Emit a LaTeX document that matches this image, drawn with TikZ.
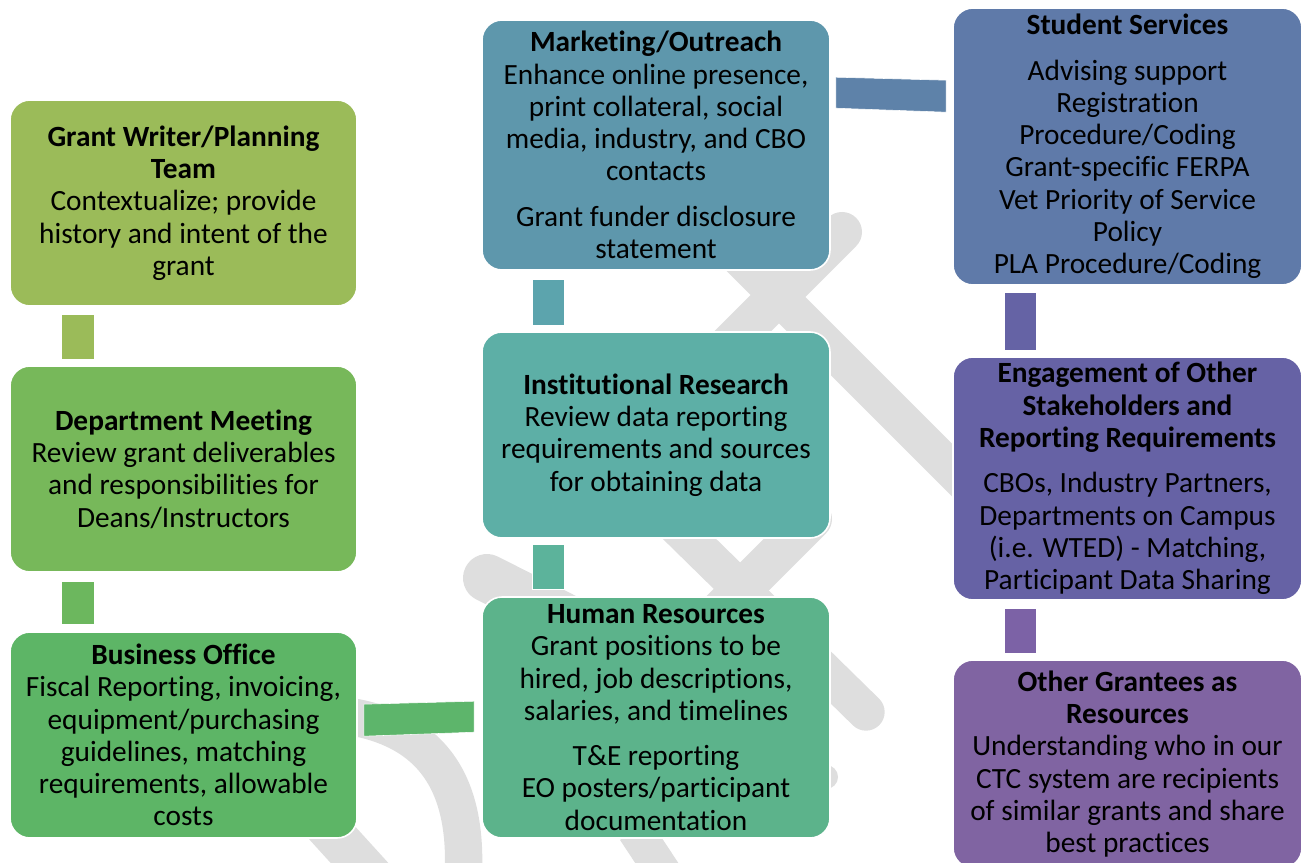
\documentclass[tikz,border=0pt]{standalone}
\usepackage{fontspec}
\setmainfont{Carlito}[Ligatures={NoCommon}]
\usetikzlibrary{calc}

\definecolor{wm}{HTML}{DEDEDE}
\definecolor{cGW}{HTML}{9BBB59}
\definecolor{cDM}{HTML}{77B85A}
\definecolor{cBO}{HTML}{5DB566}
\definecolor{cMK}{HTML}{5E97AC}
\definecolor{cIR}{HTML}{5DAFA6}
\definecolor{cHR}{HTML}{5CB38B}
\definecolor{cSS}{HTML}{5F7AA9}
\definecolor{cEN}{HTML}{6662A5}
\definecolor{cOG}{HTML}{8064A2}
\definecolor{kGD}{HTML}{9BBB59}
\definecolor{kDB}{HTML}{6CB75E}
\definecolor{kMI}{HTML}{5CA4AD}
\definecolor{kIH}{HTML}{5CB39B}
\definecolor{kSE}{HTML}{6563A5}
\definecolor{kEO}{HTML}{7C62A6}
\definecolor{kMS}{HTML}{5E82A9}
\definecolor{kBH}{HTML}{5DB56B}

\begin{document}
\begin{tikzpicture}[x=0.75pt,y=-0.75pt,
  card/.style={draw=white,line width=1.2pt,rounded corners=15pt,inner sep=0pt,
    align=center,text=black,font=\fontsize{22}{24.2}\selectfont},
  link/.style={draw=white,line width=0.4pt}]
\useasboundingbox (0,0) rectangle (1303,863);
\clip (0,0) rectangle (1303,863);

% faint logo strokes in the background
\begin{scope}[draw=wm]
  \draw[line cap=round,line width=30pt] (680,394) -- (842,232);
  \draw[line cap=round,line width=28pt] (740,258) -- (1050,568);
  \draw[line cap=round,line width=28pt] (610,461) -- (866,712);
  \draw[line cap=round,line width=30pt] (812,519) -- (700,631);
  \draw[line cap=round,line width=36pt] (487,578) -- (600,635);
  \draw[line width=28pt] (340,715) .. controls (420,725) and (470,770) .. (463,880);
  \draw[line width=32pt] (325,825) -- (375,880);
  \draw[line width=27pt] (635,830) -- (668,880);
  \draw[line cap=round,line width=18pt] (800,777) -- (826,777);
\end{scope}

% left column
\node[card,fill=cGW,minimum width=260.25pt,minimum height=154.5pt] (gw) at (183.5,203)
  {\textbf{Grant Writer/Planning}\\\textbf{Team}\\Contextualize; provide\\history and intent of the\\grant};
\node[card,fill=cDM,minimum width=260.25pt,minimum height=154.5pt] (dm) at (183.5,469)
  {\textbf{Department Meeting}\\Review grant deliverables\\and responsibilities for\\Deans/Instructors};
\node[card,fill=cBO,minimum width=260.25pt,minimum height=154.5pt] (bo) at (183.5,735)
  {\textbf{Business Office}\\Fiscal Reporting, invoicing,\\equipment/purchasing\\guidelines, matching\\requirements, allowable\\costs};

% middle column
\node[card,fill=cMK,minimum width=261pt,minimum height=187.5pt] (mk) at (656,145)
  {\textbf{Marketing/Outreach}\\Enhance online presence,\\print collateral, social\\media, industry, and CBO\\contacts\\[9.75pt]Grant funder disclosure\\statement};
\node[card,fill=cIR,minimum width=261pt,minimum height=154.5pt] (ir) at (656,435)
  {\textbf{Institutional Research}\\Review data reporting\\requirements and sources\\for obtaining data};
\node[card,fill=cHR,minimum width=261pt,minimum height=180.75pt] (hr) at (656,717.5)
  {\textbf{Human Resources}\\Grant positions to be\\hired, job descriptions,\\salaries, and timelines\\[9.75pt]T\&E reporting\\EO posters/participant\\documentation};

% right column
\node[card,fill=cSS,minimum width=261.75pt,minimum height=207.75pt] (ss) at (1127.5,146.5)
  {\textbf{Student Services}\\[9.75pt]Advising support\\Registration\\Procedure/Coding\\Grant-specific FERPA\\Vet Priority of Service\\Policy\\PLA Procedure/Coding};
\node[card,fill=cEN,minimum width=261.75pt,minimum height=182.25pt] (en) at (1127.5,478.5)
  {\textbf{Engagement of Other}\\\textbf{Stakeholders and}\\\textbf{Reporting Requirements}\\[9.75pt]CBOs, Industry Partners,\\Departments on Campus\\(i.e. WTED) - Matching,\\Participant Data Sharing};
\node[card,fill=cOG,minimum width=261.75pt,minimum height=156pt] (og) at (1127.5,764)
  {\textbf{Other Grantees as}\\\textbf{Resources}\\Understanding who in our\\CTC system are recipients\\of similar grants and share\\best practices};

% connectors
\path[link,fill=kGD] ($(gw.south west)+(52,7)$) rectangle ($(dm.north west)+(85,-6)$);
\path[link,fill=kDB] ($(dm.south west)+(52,8)$) rectangle ($(bo.north west)+(85,-7)$);
\path[link,fill=kMI] ($(mk.south west)+(51,8)$) rectangle ($(ir.north west)+(83,-6)$);
\path[link,fill=kIH] ($(ir.south west)+(51,5)$) rectangle ($(hr.north west)+(83,-7)$);
\path[link,fill=kSE] ($(ss.south west)+(52,6)$) rectangle ($(en.north west)+(84,-6)$);
\path[link,fill=kEO] ($(en.south west)+(52,7)$) rectangle ($(og.north west)+(84,-6)$);
\path[link,fill=kMS] ($(mk.north east)+(5,58)$) -- ($(ss.north west)+(-6,73)$)
  -- ($(ss.north west)+(-6,105)$) -- ($(mk.north east)+(5,89)$) -- cycle;
\path[link,fill=kBH] ($(bo.north east)+(6,73)$) -- ($(hr.north west)+(-7,105)$)
  -- ($(hr.north west)+(-7,136)$) -- ($(bo.north east)+(6,105)$) -- cycle;
\end{tikzpicture}
\end{document}
